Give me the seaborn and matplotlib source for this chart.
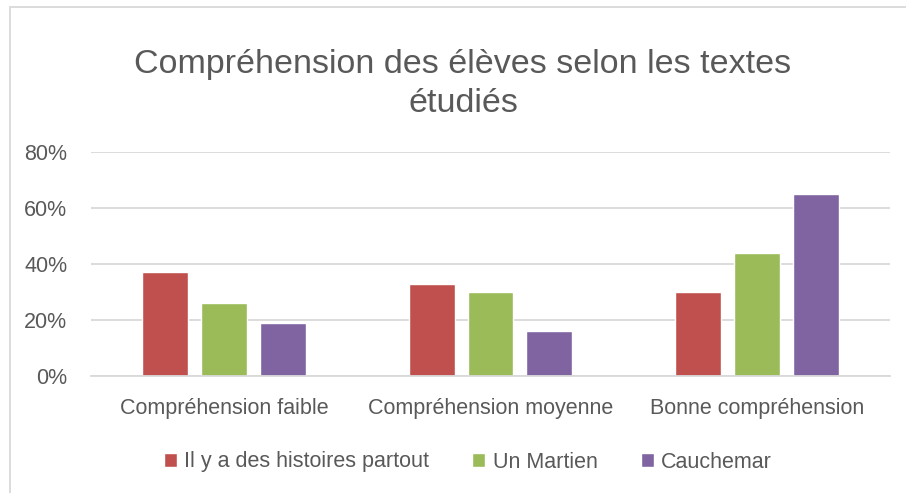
import numpy as np
import pandas as pd
import matplotlib
matplotlib.use('Agg')
import matplotlib.pyplot as plt
import seaborn as sns
from matplotlib.patches import Rectangle

# data
categories = ['Compréhension faible', 'Compréhension moyenne', 'Bonne compréhension']
textes = ['Il y a des histoires partout', 'Un Martien', 'Cauchemar']
histoires = [0.37, 0.33, 0.30]
martien = [0.26, 0.30, 0.44]
cauchemar = [0.19, 0.16, 0.65]
couleurs = ['#C0504D', '#9BBB59', '#8064A2']
yticks = [0, 0.2, 0.4, 0.6, 0.8]
ylabels = ['0%', '20%', '40%', '60%', '80%']

df = pd.DataFrame({
    'categorie': categories * 3,
    'texte': [textes[0]] * 3 + [textes[1]] * 3 + [textes[2]] * 3,
    'valeur': histoires + martien + cauchemar,
})

sns.set_style('white')
plt.rcParams['font.family'] = ['Liberation Sans', 'DejaVu Sans']
gris = '#595959'

fig = plt.figure(figsize=(9.06, 4.93), dpi=100)
ax = fig.add_axes([91 / 906, 1 - 376 / 493, 799 / 906, 224 / 493])

sns.barplot(data=df, x='categorie', y='valeur', hue='texte', palette=couleurs,
            width=0.664, gap=0.22, ax=ax, legend=True, saturation=1)

ax.set_ylim(0, 0.8)
ax.set_yticks(yticks)
ax.set_yticklabels(ylabels)
ax.set_xlabel('')
ax.set_ylabel('')
ax.grid(axis='y', color='#D9D9D9', linewidth=1.3)
ax.set_axisbelow(True)
for s in ['top', 'right', 'left']:
    ax.spines[s].set_visible(False)
ax.spines['bottom'].set_color('#D9D9D9')
ax.spines['bottom'].set_linewidth(1.3)
ax.tick_params(axis='both', length=0, labelsize=15.5, colors=gris)
ax.tick_params(axis='y', pad=17)
ax.tick_params(axis='x', pad=16)

ax.get_legend().remove()
handles, labels = ax.get_legend_handles_labels()
fig.legend(handles, labels, loc='center', bbox_to_anchor=(468 / 906, 1 - 462 / 493),
           ncol=3, frameon=False, fontsize=15.5, labelcolor=gris,
           handlelength=0.6, handleheight=0.6, handletextpad=0.35, columnspacing=2.0)

fig.text(463 / 906, 1 - 84 / 493, 'Compréhension des élèves selon les textes\nétudiés',
         ha='center', va='center', fontsize=24.5, color=gris, linespacing=1.3)

fig.patches.append(Rectangle((10 / 906, -0.1), 1.2, (493 - 7) / 493 + 0.1,
                             transform=fig.transFigure, fill=False,
                             edgecolor='#D9D9D9', linewidth=1.3))

fig.savefig('out.png', dpi=100)
